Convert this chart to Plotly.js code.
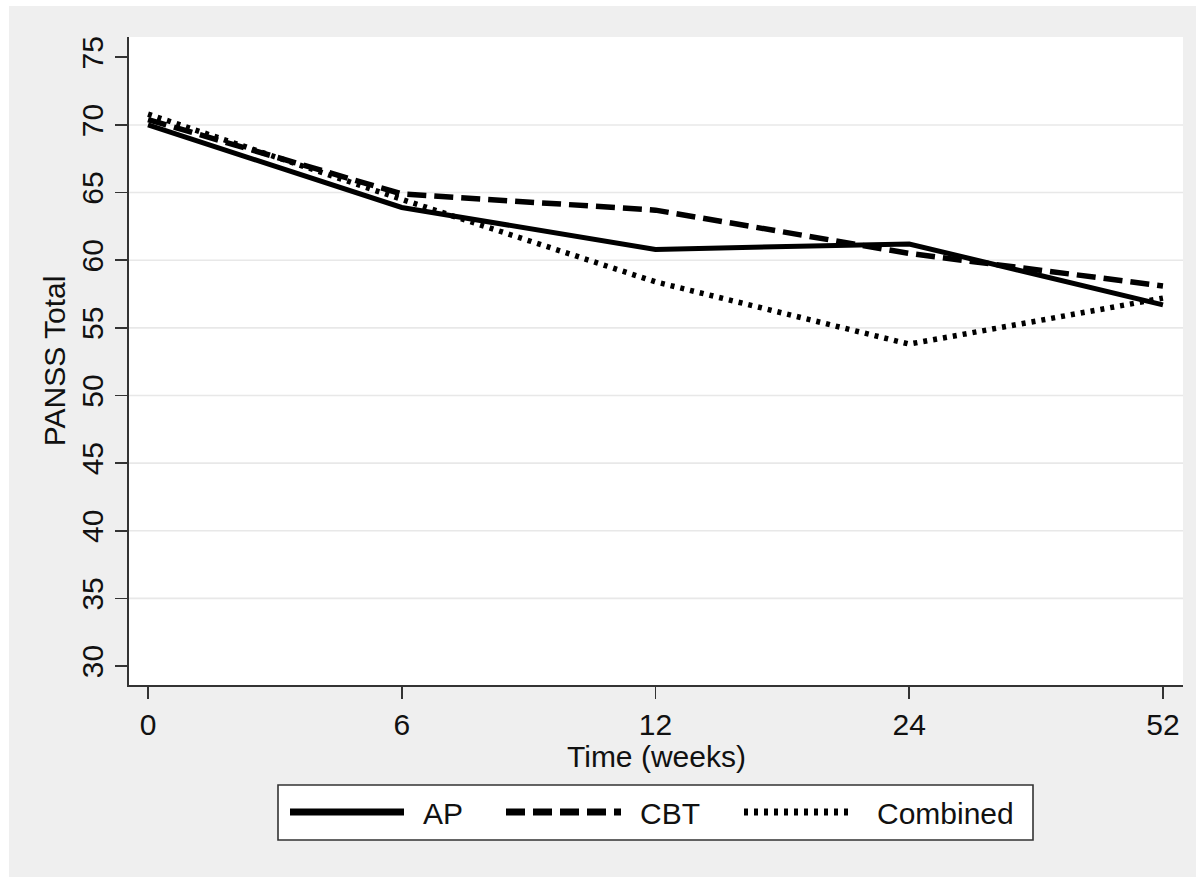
<!DOCTYPE html>
<html>
<head>
<meta charset="utf-8">
<script src="https://cdn.plot.ly/plotly-3.0.1.min.js"></script>
<style>
html, body { margin: 0; padding: 0; background: #ffffff; }
#chart { position: absolute; left: 9px; top: 6px; width: 1187px; height: 871px; }
</style>
</head>
<body>
<div id="chart"></div>
<script>
// ---- data ----
const weeks = ['0', '6', '12', '24', '52'];
const ap = [70.0, 63.9, 60.8, 61.2, 56.7];
const cbt = [70.4, 64.9, 63.7, 60.5, 58.1];
const combined = [70.8, 64.5, 58.4, 53.8, 57.2];
const yTicks = [30, 35, 40, 45, 50, 55, 60, 65, 70, 75];
const gridVals = [35, 40, 45, 50, 55, 60, 65, 70];
const seriesNames = ['AP', 'CBT', 'Combined'];
const xTitle = 'Time (weeks)';
const yTitle = 'PANSS Total';

// ---- geometry (div pixels) ----
const W = 1187, H = 871;
const M = { l: 120, r: 13, t: 31, b: 192 };
const PW = W - M.l - M.r, PH = H - M.t - M.b;
const px = x => (x - 9 - M.l) / PW;        // page x -> paper x
const py = y => 1 - (y - 6 - M.t) / PH;     // page y -> paper y

const FONT = 'Liberation Sans, Arial, Helvetica, sans-serif';
const FS = 30;
const TXT = { family: FONT, size: FS, color: '#111111' };
const styles = [
  { dash: 'solid', width: 5 },
  { dash: '19px,8px', width: 5.5 },
  { dash: '4px,6px', width: 5.5 }
];
const values = [ap, cbt, combined];

const traces = values.map((v, i) => ({
  x: weeks, y: v, type: 'scatter', mode: 'lines', name: seriesNames[i],
  line: { color: '#000000', width: styles[i].width, dash: styles[i].dash },
  showlegend: false
}));

const shapes = [];
gridVals.forEach(g => shapes.push({
  type: 'line', xref: 'paper', yref: 'y', x0: 0, x1: 1, y0: g, y1: g,
  line: { color: '#e8e8e8', width: 1.6 }, layer: 'below'
}));

// legend box
shapes.push({
  type: 'rect', xref: 'paper', yref: 'paper',
  x0: px(278), x1: px(1033), y0: py(840), y1: py(785),
  fillcolor: '#ffffff', line: { color: '#333333', width: 1.6 }
});
const legLines = [[290, 404], [506, 621], [744, 853]];
const legText = [421, 638, 875];
const annotations = [];
legLines.forEach((seg, i) => {
  shapes.push({
    type: 'line', xref: 'paper', yref: 'paper',
    x0: px(seg[0]), x1: px(seg[1]), y0: py(812), y1: py(812),
    line: { color: '#000000', width: 7, dash: styles[i].dash }
  });
  annotations.push({
    xref: 'paper', yref: 'paper', x: px(legText[i]), y: py(813),
    xanchor: 'left', yanchor: 'middle', showarrow: false,
    text: seriesNames[i], font: TXT
  });
});
// x axis title
annotations.push({
  xref: 'paper', yref: 'paper', x: 0.5, y: py(756),
  xanchor: 'center', yanchor: 'middle', showarrow: false,
  text: xTitle, font: TXT
});

const layout = {
  width: W, height: H, autosize: false,
  margin: M,
  paper_bgcolor: '#efefef', plot_bgcolor: '#ffffff',
  font: TXT,
  xaxis: {
    type: 'category', range: [-0.075, 4.079],
    showgrid: false, zeroline: false,
    showline: true, linecolor: '#333333', linewidth: 1.6,
    ticks: 'outside', ticklen: 12, tickwidth: 1.6, tickcolor: '#333333',
    tickfont: TXT
  },
  yaxis: {
    range: [28.6, 76.5], tickvals: yTicks, ticktext: yTicks.map(String),
    showgrid: false, zeroline: false,
    showline: true, linecolor: '#333333', linewidth: 1.6,
    ticks: 'outside', ticklen: 12, tickwidth: 1.6, tickcolor: '#333333',
    tickangle: -90,
    tickfont: TXT,
    title: { text: yTitle, font: TXT, standoff: 2 }
  },
  shapes: shapes,
  annotations: annotations,
  showlegend: false
};

Plotly.newPlot('chart', traces, layout, { displayModeBar: false, staticPlot: true });
</script>
</body>
</html>
